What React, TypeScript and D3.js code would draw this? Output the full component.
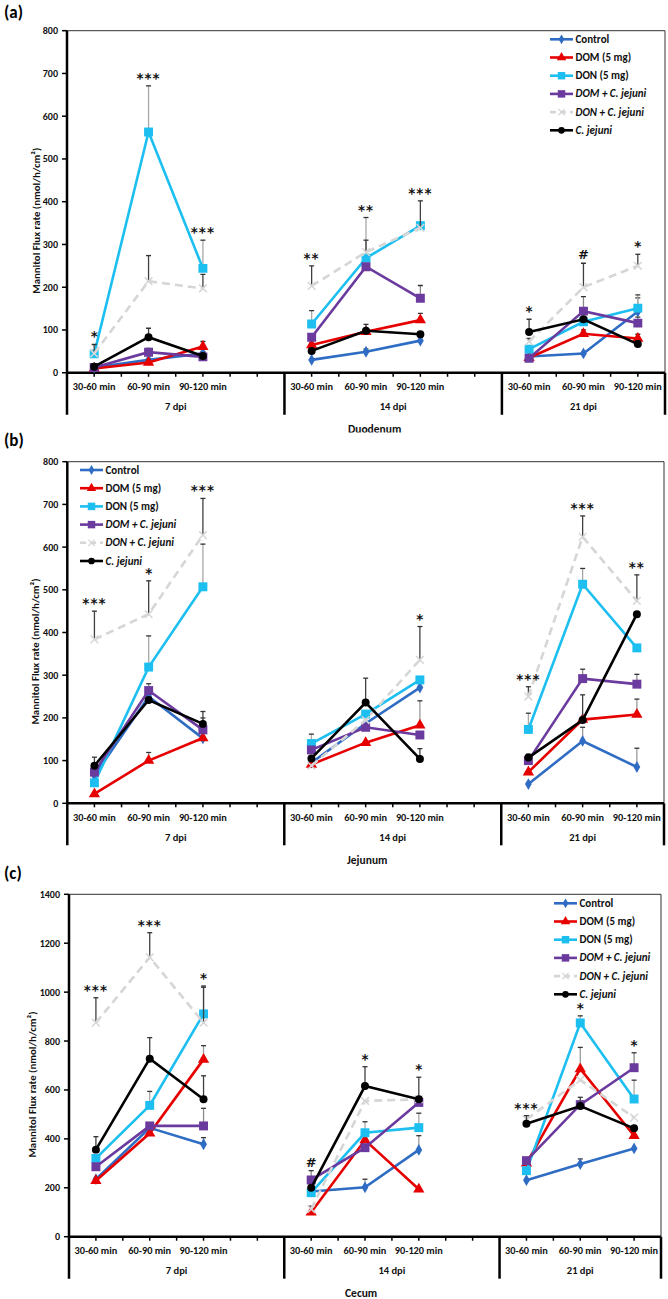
import React from "react";
import * as d3 from "d3";

// ---------- shared labels ----------
const timeLabels = ["30-60 min", "60-90 min", "90-120 min"];
const dpiLabels = ["7 dpi", "14 dpi", "21 dpi"];
const seriesNames = ["Control", "DOM (5 mg)", "DON (5 mg)", "DOM + C. jejuni", "DON + C. jejuni", "C. jejuni"];

// ---------- (a) Duodenum: 9 points = 3 dpi x 3 time windows ----------
const duoControl = [12, 30, 45, 30, 49, 75, 38, 45, 143];
const duoDOM = [10, 24, 61, 65, 96, 123, 35, 91, 80];
const duoDON = [44, 563, 244, 114, 268, 344, 55, 119, 151];
const duoDOMCj = [12, 48, 37, 83, 248, 174, 34, 144, 116];
const duoDONCj = [45, 214, 197, 203, 282, 339, 73, 200, 250];
const duoCj = [14, 83, 39, 51, 98, 90, 95, 125, 67];
// upper error bar ends (null = not visible)
const duoErrControl = [null, null, 50, null, 55, 82, null, null, 175];
const duoErrDOM = [null, 30, 73, 70, 103, 139, null, 100, 90];
const duoErrDON = [null, 671, 310, 145, 363, null, 60, 130, 182];
const duoErrDOMCj = [null, 57, null, null, null, 204, null, 178, 130];
const duoErrDONCj = [66, 274, 230, 250, 310, 402, 80, 256, 277];
const duoErrCj = [null, 104, null, null, 113, null, 125, null, 75];
const duoSig = ["*", "***", "***", "**", "**", "***", "*", "#", "*"];

// ---------- (b) Jejunum ----------
const jejControl = [65, 250, 152, 95, 187, 271, 45, 146, 85];
const jejDOM = [22, 100, 153, 91, 142, 183, 73, 196, 208];
const jejDON = [48, 319, 507, 140, 209, 289, 173, 513, 364];
const jejDOMCj = [73, 264, 172, 125, 178, 160, 100, 292, 279];
const jejDONCj = [384, 443, 628, 88, 195, 336, 250, 624, 474];
const jejCj = [88, 242, 186, 105, 236, 104, 107, 195, 443];
const jejErrControl = [null, null, null, null, null, null, null, 178, 129];
const jejErrDOM = [null, 119, null, null, null, 240, null, null, 244];
const jejErrDON = [null, 392, 607, 162, null, null, 211, 550, null];
const jejErrDOMCj = [null, 280, 200, null, null, null, null, 314, 302];
const jejErrDONCj = [450, 521, 714, null, null, 414, 273, 673, 535];
const jejErrCj = [108, null, 215, null, 293, 128, 115, 254, null];
const jejSig = ["***", "*", "***", "", "", "*", "***", "***", "**"];

// ---------- (c) Cecum ----------
const cecControl = [235, 445, 378, 185, 202, 355, 231, 297, 361];
const cecDOM = [229, 423, 725, 100, 395, 194, 300, 686, 413];
const cecDON = [320, 537, 911, 180, 425, 446, 270, 874, 563];
const cecDOMCj = [286, 453, 453, 232, 364, 549, 311, 540, 691];
const cecDONCj = [875, 1142, 875, 113, 555, 562, 480, 641, 487];
const cecCj = [356, 728, 562, 200, 616, 562, 462, 534, 443];
const cecErrControl = [null, null, 405, null, 235, 413, null, 318, null];
const cecErrDOM = [null, null, 781, 125, null, null, null, 774, null];
const cecErrDON = [null, 594, 1025, null, 470, 505, null, 903, 640];
const cecErrDOMCj = [null, null, 525, 270, null, null, null, null, 752];
const cecErrDONCj = [977, 1243, 1020, null, null, 652, null, null, null];
const cecErrCj = [409, 814, 658, null, 695, null, 495, 570, null];
const cecSig = ["***", "***", "*", "#", "*", "*", "***", "*", "*"];

// ---------- styles ----------
const FONT = "Carlito, Lato, 'Liberation Sans', sans-serif";
const SIGFONT = "'DejaVu Sans', sans-serif";
const seriesStyle = [
  { color: "#2F6CC4", marker: "diamond", size: 40, err: "#9a9a9a", dash: null, italic: false },
  { color: "#E60000", marker: "triangle", size: 55, err: "#9a9a9a", dash: null, italic: false },
  { color: "#1CBFF0", marker: "square", size: 80, err: "#a8a8a8", dash: null, italic: false },
  { color: "#6B3A9E", marker: "square", size: 80, err: "#8a8a8a", dash: null, italic: true },
  { color: "#D6D6D6", marker: "x", size: 40, err: "#404040", dash: "8,5", italic: true },
  { color: "#000000", marker: "circle", size: 50, err: "#404040", dash: null, italic: true },
];

const symbolFor = (m: string) =>
  m === "diamond" ? d3.symbolDiamond :
  m === "triangle" ? d3.symbolTriangle :
  m === "square" ? d3.symbolSquare :
  m === "circle" ? d3.symbolCircle : d3.symbolX;

type PanelCfg = {
  label: string; labelY: number; title: string; titleX: number;
  left: number; right: number; top: number; y0: number;
  yMax: number; yStep: number; yTitleX: number;
  series: number[][]; errs: (number | null)[][]; sig: string[];
  legendX: number; legendY: number; clipBottom?: number;
};

const panels: PanelCfg[] = [
  {
    label: "(a)", labelY: 12, title: "Duodenum", titleX: 348,
    left: 67, right: 665, top: 30.7, y0: 372.7, yMax: 800, yStep: 100, yTitleX: 36,
    series: [duoControl, duoDOM, duoDON, duoDOMCj, duoDONCj, duoCj],
    errs: [duoErrControl, duoErrDOM, duoErrDON, duoErrDOMCj, duoErrDONCj, duoErrCj],
    sig: duoSig, legendX: 550, legendY: 39.3, clipBottom: 432.5,
  },
  {
    label: "(b)", labelY: 440, title: "Jejunum", titleX: 347,
    left: 67.3, right: 664, top: 461.7, y0: 803.3, yMax: 800, yStep: 100, yTitleX: 35,
    series: [jejControl, jejDOM, jejDON, jejDOMCj, jejDONCj, jejCj],
    errs: [jejErrControl, jejErrDOM, jejErrDON, jejErrDOMCj, jejErrDONCj, jejErrCj],
    sig: jejSig, legendX: 80, legendY: 470,
  },
  {
    label: "(c)", labelY: 873, title: "Cecum", titleX: 345,
    left: 69, right: 661, top: 894.3, y0: 1236.7, yMax: 1400, yStep: 200, yTitleX: 32,
    series: [cecControl, cecDOM, cecDON, cecDOMCj, cecDONCj, cecCj],
    errs: [cecErrControl, cecErrDOM, cecErrDON, cecErrDOMCj, cecErrDONCj, cecErrCj],
    sig: cecSig, legendX: 554, legendY: 903.3,
  },
];

function Panel({ p, idx }: { p: PanelCfg; idx: number }) {
  const nCells = 11;
  const y = d3.scaleLinear().domain([0, p.yMax]).range([p.y0, p.top]);
  const cellX = d3.scaleLinear().domain([0, nCells]).range([p.left, p.right]);
  const xOf = (i: number) => cellX(Math.floor(i / 3) * 4 + (i % 3) + 0.5);
  const yTicks = d3.range(0, p.yMax + 1, p.yStep);
  const bottom = p.y0 + 42;
  const line = d3.line<[number, number]>().x((d) => d[0]).y((d) => d[1]);
  const clipId = `clip${idx}`;
  const halfTicks = d3.range(1, 22).filter((j) => j !== 8 && j !== 16);

  return (
    <g clipPath={p.clipBottom ? `url(#${clipId})` : undefined} fontFamily={FONT}>
      {p.clipBottom && (
        <defs>
          <clipPath id={clipId}>
            <rect x={0} y={0} width={668} height={p.clipBottom} />
          </clipPath>
        </defs>
      )}
      <text x={4} y={p.labelY} fontSize={17} fontWeight="bold" dominantBaseline="central">{p.label}</text>
      {/* plot frame */}
      <line x1={p.left} x2={p.right} y1={p.top} y2={p.top} stroke="#333" strokeWidth={1} />
      <line x1={p.right} x2={p.right} y1={p.top} y2={p.y0} stroke="#333" strokeWidth={1} />
      {/* y axis */}
      {yTicks.map((t) => (
        <g key={t}>
          <line x1={p.left - 5} x2={p.left} y1={y(t)} y2={y(t)} stroke="#000" strokeWidth={1.5} />
          <text x={p.left - 9} y={y(t)} fontSize={10} fontWeight="bold" textAnchor="end" dominantBaseline="central" fill="#111">{t}</text>
        </g>
      ))}
      <text
        transform={`translate(${p.yTitleX},${(p.top + bottom) / 2 - 2}) rotate(-90)`}
        fontSize={10.8} fontWeight="bold" textAnchor="middle" dominantBaseline="central" fill="#111"
      >
        Mannitol Flux rate (nmol/h/cm²)
      </text>
      {/* x axis */}
      {halfTicks.map((j) => (
        <line key={j} x1={cellX(j / 2)} x2={cellX(j / 2)} y1={p.y0} y2={p.y0 + 4} stroke="#000" strokeWidth={1.5} />
      ))}
      {[0, 4, 8, 11].map((c) => (
        <line key={c} x1={cellX(c)} x2={cellX(c)} y1={c === 0 ? p.top : p.y0} y2={bottom} stroke="#000" strokeWidth={2.5} />
      ))}
      <line x1={p.left} x2={p.right} y1={p.y0} y2={p.y0} stroke="#000" strokeWidth={2.5} />
      {d3.range(9).map((i) => (
        <text key={i} x={xOf(i)} y={p.y0 + 14} fontSize={10.3} fontWeight="bold" textAnchor="middle" dominantBaseline="central" fill="#111">
          {timeLabels[i % 3]}
        </text>
      ))}
      {dpiLabels.map((g, gi) => (
        <text key={g} x={(cellX(gi * 4) + cellX(Math.min(gi * 4 + 4, nCells))) / 2} y={p.y0 + 34}
          fontSize={10.5} fontWeight="bold" textAnchor="middle" dominantBaseline="central" fill="#111">
          {g}
        </text>
      ))}
      <text x={p.titleX} y={p.y0 + 56.5} fontSize={11.5} fontWeight="bold" dominantBaseline="central" fill="#111">{p.title}</text>

      {/* series */}
      {p.series.map((vals, si) => {
        const st = seriesStyle[si];
        const sym = d3.symbol().type(symbolFor(st.marker)).size(st.size)();
        return (
          <g key={si}>
            {p.errs[si].map((e, i) =>
              e == null ? null : (
                <g key={i}>
                  <line x1={xOf(i)} x2={xOf(i)} y1={y(vals[i])} y2={y(e)} stroke={st.err} strokeWidth={1.3} />
                  <line x1={xOf(i) - 2.5} x2={xOf(i) + 2.5} y1={y(e)} y2={y(e)} stroke="#333" strokeWidth={1.3} />
                </g>
              )
            )}
            {[0, 1, 2].map((g) => (
              <path key={g}
                d={line([0, 1, 2].map((k) => [xOf(g * 3 + k), y(vals[g * 3 + k])]) as [number, number][]) || ""}
                fill="none" stroke={st.color} strokeWidth={2.6} strokeDasharray={st.dash || undefined} />
            ))}
            {vals.map((v, i) => (
              <path key={i} d={sym || ""} transform={`translate(${xOf(i)},${y(v)})`}
                fill={st.marker === "x" ? "none" : st.color}
                stroke={st.marker === "x" ? st.color : "none"} strokeWidth={1.5} />
            ))}
          </g>
        );
      })}

      {/* significance markers */}
      {p.sig.map((s, i) => {
        if (!s) return null;
        const tops = p.series.map((v) => v[i]).concat(p.errs.map((e) => e[i]).filter((e) => e != null) as number[]);
        const m = Math.max(...tops);
        const isHash = s === "#";
        return (
          <text key={i} x={xOf(i)} y={y(m) - (isHash ? 4 : 3)} fontSize={isHash ? 13 : 13.5} fontWeight="bold"
            fontFamily={SIGFONT} textAnchor="middle" letterSpacing={s.length > 1 ? 1 : 0} fill="#111">
            {s}
          </text>
        );
      })}

      {/* legend */}
      {seriesNames.map((name, si) => {
        const st = seriesStyle[si];
        const ly = p.legendY + si * 18.2;
        const sym = d3.symbol().type(symbolFor(st.marker)).size(st.size * 0.7)();
        return (
          <g key={name}>
            <line x1={p.legendX} x2={p.legendX + 23} y1={ly} y2={ly} stroke={st.color} strokeWidth={2.6}
              strokeDasharray={st.dash ? "6,4" : undefined} />
            <path d={sym || ""} transform={`translate(${p.legendX + 11.5},${ly})`}
              fill={st.marker === "x" ? "none" : st.color}
              stroke={st.marker === "x" ? st.color : "none"} strokeWidth={1.2} />
            <text x={p.legendX + 25.5} y={ly} fontSize={11} fontWeight="bold" dominantBaseline="central"
              fontStyle={st.italic ? "italic" : "normal"} fill="#111">
              {name}
            </text>
          </g>
        );
      })}
    </g>
  );
}

export default function App() {
  return (
    <svg width={668} height={1299} style={{ position: "absolute", left: 0, top: 0, background: "#fff" }}>
      <rect x={0} y={0} width={668} height={1299} fill="#fff" />
      {panels.map((p, i) => (
        <Panel key={i} p={p} idx={i} />
      ))}
    </svg>
  );
}
